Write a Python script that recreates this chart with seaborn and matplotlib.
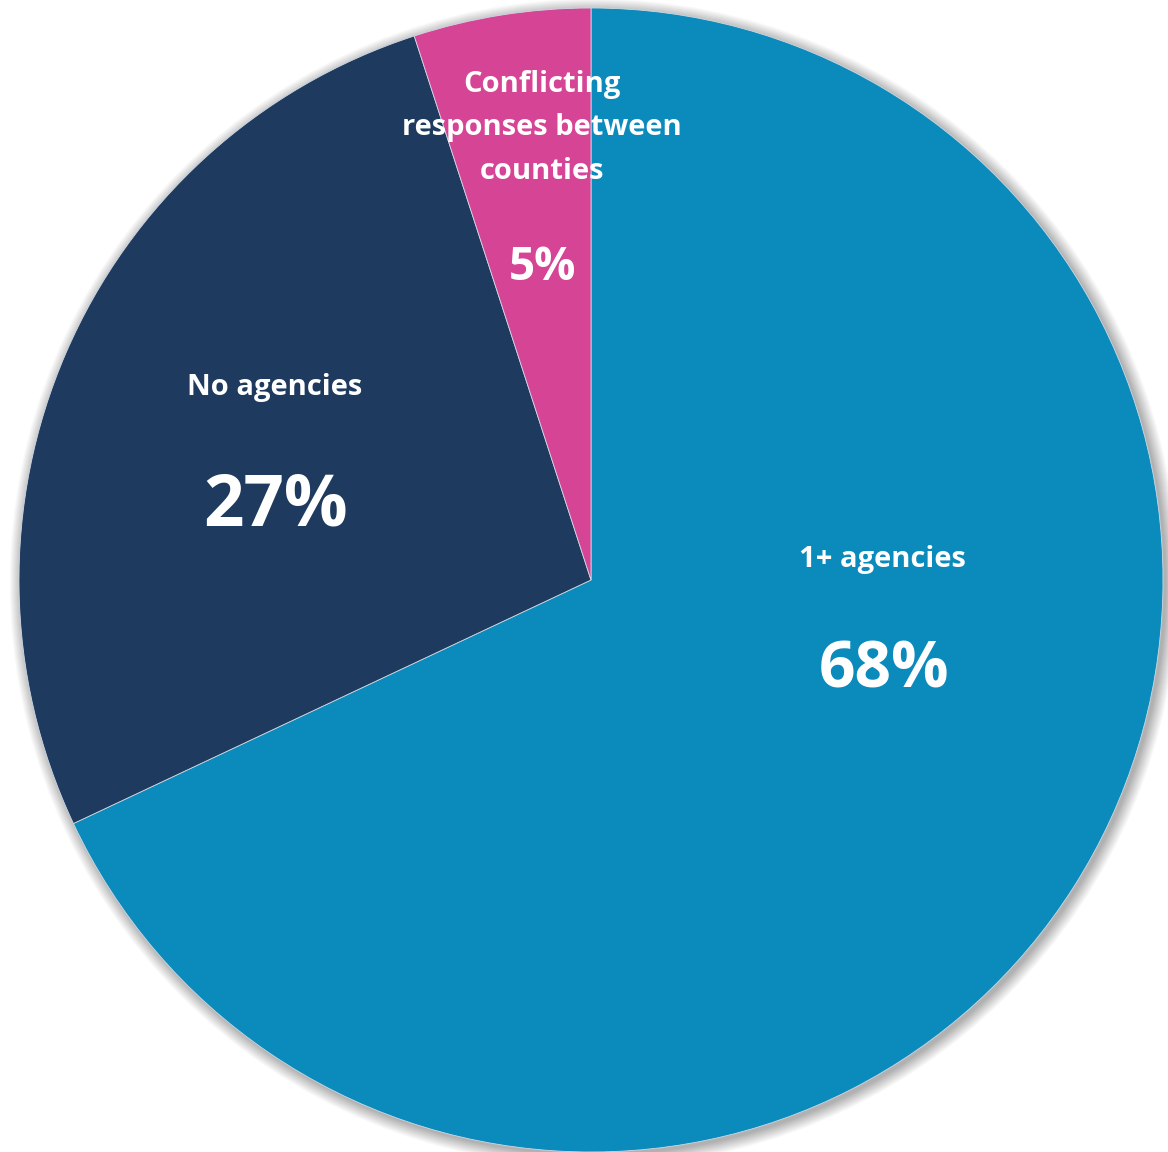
import matplotlib
matplotlib.use("Agg")
import matplotlib.pyplot as plt
import seaborn as sns
from matplotlib.patches import Circle

# Data
categories = ["1+ agencies", "No agencies", "Conflicting\nresponses between\ncounties"]
values = [68, 27, 5]
pct_labels = ["68%", "27%", "5%"]
colors = ["#0B8ABC", "#1E3A5F", "#D64496"]

sns.set_theme(style="white")
plt.rcParams['font.family'] = ['Open Sans', 'DejaVu Sans']

W, H, DPI = 1168, 1152, 100
fig = plt.figure(figsize=(W / DPI, H / DPI), dpi=DPI)
ax = fig.add_axes([0, 0, 1, 1])

R = 572.0  # pixel radius
cx, cy = 591.0, 580.0  # pixel center (from top)

# soft shadow (blurred via stacked translucent discs)
for i in range(26):
    ax.add_patch(Circle((3 / R, -3 / R), 1 + (i * 0.5) / R, color="#000000",
                        alpha=0.011, lw=0, zorder=0))

wedges, _ = ax.pie(values, colors=colors, startangle=90, counterclock=False,
                   radius=1, center=(0, 0), frame=True,
                   wedgeprops=dict(linewidth=0.6, edgecolor="#cfd8e3"))
for w in wedges:
    w.set_zorder(2)
ax.set_xlim(-cx / R, (W - cx) / R)
ax.set_ylim(-(H - cy) / R, cy / R)
ax.set_aspect("equal")
ax.set_axis_off()

def px(x, y):
    return ((x - cx) / R, (cy - y) / R)

# label positions (pixel coords in reference)
name_pos = [(882, 560), (275, 388), (542, 128)]
pct_pos = [(884, 671), (276, 506), (542, 268)]
name_sizes = [21, 21, 21]
pct_sizes = [46, 51, 33]

for name, pct, npos, ppos, ns, ps in zip(categories, pct_labels, name_pos,
                                         pct_pos, name_sizes, pct_sizes):
    ax.text(*px(*npos), name, ha="center", va="center", color="white",
            fontsize=ns, fontweight="bold", linespacing=1.68, zorder=5)
    ax.text(*px(*ppos), pct, ha="center", va="center", color="white",
            fontsize=ps, fontweight="bold", zorder=5)

fig.savefig("out.png", dpi=DPI, facecolor="white")
